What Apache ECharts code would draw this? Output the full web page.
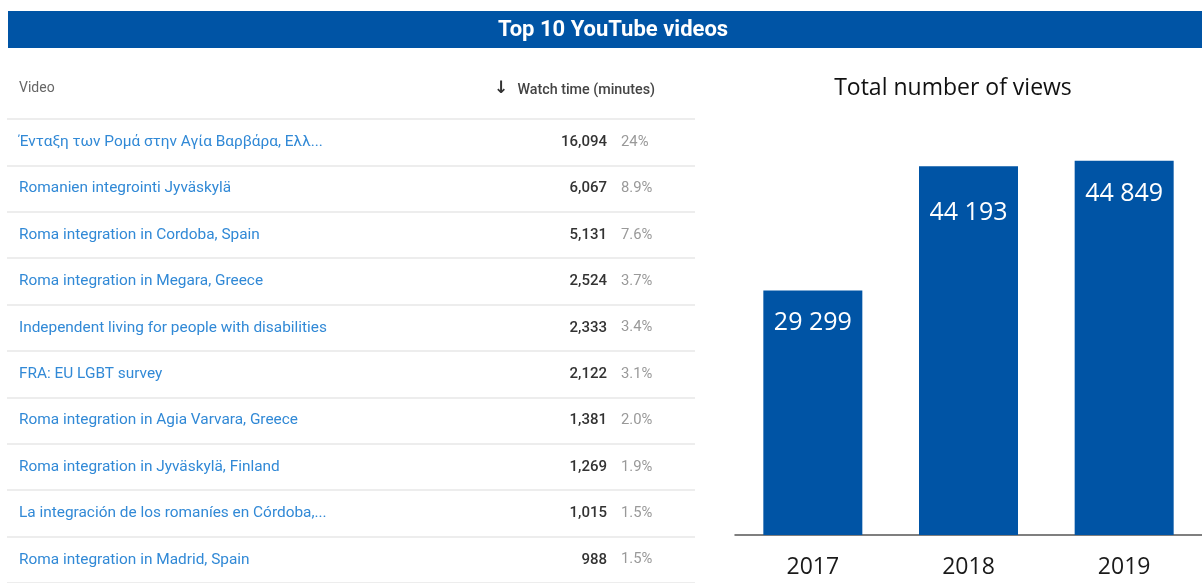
<!DOCTYPE html>
<html>
<head>
<meta charset="utf-8">
<script src="https://cdn.jsdelivr.net/npm/echarts@6/dist/echarts.min.js"></script>
<style>
html,body{margin:0;padding:0;background:#fff;}
#chart{width:1202px;height:583px;}
</style>
</head>
<body>
<div id="chart"></div>
<script>
// ---- data ----
var pageTitle = 'Top 10 YouTube videos';
var tableHeaderVideo = 'Video';
var tableHeaderArrow = '\u2193';
var tableHeaderTime = 'Watch time (minutes)';
var videos = [
  '\u0388\u03bd\u03c4\u03b1\u03be\u03b7 \u03c4\u03c9\u03bd \u03a1\u03bf\u03bc\u03ac \u03c3\u03c4\u03b7\u03bd \u0391\u03b3\u03af\u03b1 \u0392\u03b1\u03c1\u03b2\u03ac\u03c1\u03b1, \u0395\u03bb\u03bb...',
  'Romanien integrointi Jyv\u00e4skyl\u00e4',
  'Roma integration in Cordoba, Spain',
  'Roma integration in Megara, Greece',
  'Independent living for people with disabilities',
  'FRA: EU LGBT survey',
  'Roma integration in Agia Varvara, Greece',
  'Roma integration in Jyv\u00e4skyl\u00e4, Finland',
  'La integraci\u00f3n de los roman\u00edes en C\u00f3rdoba,...',
  'Roma integration in Madrid, Spain'
];
var watchTime = [16094, 6067, 5131, 2524, 2333, 2122, 1381, 1269, 1015, 988];
var watchShare = ['24%', '8.9%', '7.6%', '3.7%', '3.4%', '3.1%', '2.0%', '1.9%', '1.5%', '1.5%'];

var chartTitle = 'Total number of views';
var years = ['2017', '2018', '2019'];
var views = [29299, 44193, 44849];

// ---- styling ----
var BLUE = '#0054a5';
var labelGaps = [20, 34, 21];
var ROW_PAD = [9, 0, 0, 0];

function fmtComma(v) { return v.toLocaleString('en-US'); }
function fmtSpace(v) { return v.toLocaleString('en-US').replace(/,/g, ' '); }

var rowAxisBase = {
  gridIndex: 0, type: 'category', inverse: true,
  axisLine: { show: false }, axisTick: { show: false }, splitLine: { show: false }
};

var chart = echarts.init(document.getElementById('chart'));
chart.setOption({
  animation: false,
  backgroundColor: '#fff',
  graphic: [
    { type: 'rect', shape: { x: 8, y: 11, width: 1194, height: 37 }, style: { fill: BLUE }, z: 0 },
    { type: 'text', x: 613, y: 30, z: 1,
      style: { text: pageTitle, align: 'center', verticalAlign: 'middle', fill: '#fff',
               font: 'bold 22px Roboto, sans-serif' } },
    { type: 'text', x: 19, y: 88,
      style: { text: tableHeaderVideo, align: 'left', verticalAlign: 'middle', fill: '#666',
               font: '14px Roboto, sans-serif' } },
    { type: 'text', x: 501, y: 89,
      style: { text: tableHeaderArrow, align: 'center', verticalAlign: 'middle', fill: '#333',
               font: 'bold 17px "DejaVu Sans", sans-serif' } },
    { type: 'text', x: 655, y: 90,
      style: { text: tableHeaderTime, align: 'right', verticalAlign: 'middle', fill: '#444',
               font: '500 14.3px Roboto, sans-serif' } },
    { type: 'text', x: 953, y: 88,
      style: { text: chartTitle, align: 'center', verticalAlign: 'middle', fill: '#111',
               font: '23px "Open Sans", sans-serif' } }
  ],
  grid: [
    { left: 7, top: 119, width: 688, height: 464 },
    { left: 735, top: 101, width: 471, height: 434 }
  ],
  xAxis: [
    { gridIndex: 0, type: 'value', show: false },
    { gridIndex: 1, type: 'category', data: years,
      axisLine: { lineStyle: { color: '#555', width: 1.5 } },
      axisTick: { show: false },
      axisLabel: { color: '#1a1a1a', fontSize: 23, fontFamily: '"Open Sans", sans-serif', margin: 21 } }
  ],
  yAxis: [
    Object.assign({}, rowAxisBase, {
      data: videos, position: 'left',
      splitLine: { show: true, interval: 0, lineStyle: { color: '#e7e7e7', width: 1.5 } },
      axisLabel: { inside: true, margin: 12, color: '#3189d6', fontSize: 15.4,
                   fontFamily: 'Roboto, sans-serif', interval: 0, padding: ROW_PAD } }),
    Object.assign({}, rowAxisBase, {
      data: watchTime.map(fmtComma), position: 'right',
      axisLabel: { inside: true, margin: 88, interval: 0, align: 'right',
                   color: '#333', fontSize: 15, fontWeight: 500,
                   fontFamily: 'Roboto, sans-serif', padding: ROW_PAD } }),
    Object.assign({}, rowAxisBase, {
      data: watchShare, position: 'right',
      axisLabel: { inside: true, margin: 74, interval: 0, align: 'left',
                   color: '#999', fontSize: 14.8,
                   fontFamily: 'Roboto, sans-serif', padding: ROW_PAD } }),
    { gridIndex: 1, type: 'value', min: 0, max: 52000, show: false }
  ],
  series: [
    { type: 'bar', xAxisIndex: 0, yAxisIndex: 0, data: watchTime, silent: true,
      itemStyle: { color: 'rgba(0,0,0,0)' } },
    { type: 'bar', xAxisIndex: 1, yAxisIndex: 3, barWidth: 99,
      data: views.map(function (v, i) {
        return { value: v, label: { distance: labelGaps[i] } };
      }),
      itemStyle: { color: BLUE },
      label: { show: true, position: 'insideTop', color: '#fff', fontSize: 25,
               fontFamily: '"Open Sans", sans-serif',
               formatter: function (p) { return fmtSpace(p.value); } } }
  ]
});
</script>
</body>
</html>
